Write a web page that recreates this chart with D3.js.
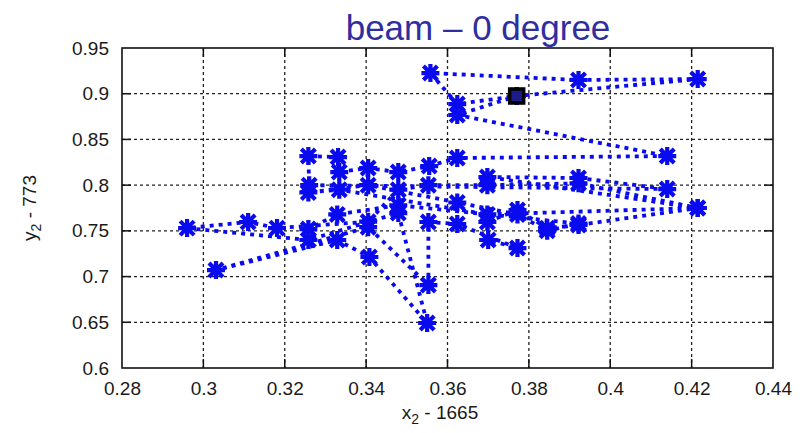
<!DOCTYPE html>
<html>
<head>
<meta charset="utf-8">
<script src="https://cdn.jsdelivr.net/npm/d3@7"></script>
<style>
body { margin: 0; background: #fff; }
svg { display: block; font-family: "Liberation Sans", Arial, sans-serif; }
</style>
</head>
<body>
<div></div>
<script>
var width = 805, height = 433;
var pLeft = 122, pRight = 773, pTop = 48, pBottom = 368;

var xTicks = [0.28, 0.30, 0.32, 0.34, 0.36, 0.38, 0.40, 0.42, 0.44];
var xTickLabels = ["0.28", "0.3", "0.32", "0.34", "0.36", "0.38", "0.4", "0.42", "0.44"];
var yTicks = [0.60, 0.65, 0.70, 0.75, 0.80, 0.85, 0.90, 0.95];
var yTickLabels = ["0.6", "0.65", "0.7", "0.75", "0.8", "0.85", "0.9", "0.95"];

// beam position track (x2 - 1665, y2 - 773), in time order
var trackX = [0.377, 0.4215, 0.3922, 0.3558, 0.3624, 0.377, 0.3624, 0.414, 0.3624, 0.3555,
              0.3479, 0.3405, 0.3334, 0.3331, 0.3258, 0.326, 0.414, 0.3922, 0.3698, 0.4215,
              0.3922, 0.3845, 0.3772, 0.3698, 0.370, 0.3772, 0.3624, 0.3553, 0.3553, 0.3405,
              0.3031, 0.3329, 0.3408, 0.355, 0.3479, 0.3258, 0.296, 0.311, 0.3181, 0.3405,
              0.3479, 0.3553, 0.3698, 0.3922, 0.4215, 0.3698, 0.3334, 0.3258, 0.3405, 0.3624,
              0.3772, 0.3845, 0.3922, 0.3479, 0.3329, 0.3258];
var trackY = [0.8975, 0.916, 0.915, 0.9226, 0.8887, 0.8975, 0.8767, 0.8318, 0.8297, 0.8209,
              0.8143, 0.8187, 0.8143, 0.8307, 0.8318, 0.800, 0.7957, 0.8078, 0.8089, 0.775,
              0.7564, 0.753, 0.7728, 0.7597, 0.740, 0.7312, 0.7575, 0.7597, 0.6907, 0.754,
              0.7071, 0.740, 0.7214, 0.6492, 0.7695, 0.740, 0.753, 0.7597, 0.753, 0.760,
              0.795, 0.800, 0.800, 0.802, 0.775, 0.768, 0.795, 0.792, 0.800, 0.781,
              0.768, 0.750, 0.758, 0.778, 0.768, 0.752];
var startX = [0.377];
var startY = [0.8975];

var points = trackX.map(function(d, i) { return [d, trackY[i]]; });

var blue = "#0a0aee";

var svg = d3.select("div").append("svg")
    .attr("width", width)
    .attr("height", height);

var x = d3.scaleLinear().domain([0.28, 0.44]).range([pLeft, pRight]);
var y = d3.scaleLinear().domain([0.6, 0.95]).range([pBottom, pTop]);

// grid
svg.append("g").selectAll("line").data(xTicks.slice(1, -1)).join("line")
    .attr("x1", d => x(d)).attr("x2", d => x(d))
    .attr("y1", pTop).attr("y2", pBottom)
    .attr("stroke", "#222").attr("stroke-width", 1.3)
    .attr("stroke-dasharray", "3,3");
svg.append("g").selectAll("line").data(yTicks.slice(1, -1)).join("line")
    .attr("y1", d => y(d)).attr("y2", d => y(d))
    .attr("x1", pLeft).attr("x2", pRight)
    .attr("stroke", "#222").attr("stroke-width", 1.3)
    .attr("stroke-dasharray", "3,3");

// axes: labels outside, short ticks inside
var xAxis = d3.axisBottom(x).tickValues(xTicks)
    .tickFormat((d, i) => xTickLabels[i]).tickSize(0).tickPadding(14);
var yAxis = d3.axisLeft(y).tickValues(yTicks)
    .tickFormat((d, i) => yTickLabels[i]).tickSize(0).tickPadding(13);

var gx = svg.append("g").attr("transform", "translate(0," + pBottom + ")").call(xAxis);
var gy = svg.append("g").attr("transform", "translate(" + pLeft + ",0)").call(yAxis);
[gx, gy].forEach(function(g) {
    g.select(".domain").remove();
    g.selectAll("text").attr("font-size", 19).attr("fill", "#1a1a1a")
        .attr("font-family", "Liberation Sans, Arial, sans-serif");
});

var tickLen = 9;
var ticks = svg.append("g").attr("stroke", "#111").attr("stroke-width", 1.5);
xTicks.slice(1, -1).forEach(function(d) {
    ticks.append("line").attr("x1", x(d)).attr("x2", x(d)).attr("y1", pBottom).attr("y2", pBottom - tickLen);
    ticks.append("line").attr("x1", x(d)).attr("x2", x(d)).attr("y1", pTop).attr("y2", pTop + tickLen);
});
yTicks.slice(1, -1).forEach(function(d) {
    ticks.append("line").attr("y1", y(d)).attr("y2", y(d)).attr("x1", pLeft).attr("x2", pLeft + tickLen);
    ticks.append("line").attr("y1", y(d)).attr("y2", y(d)).attr("x1", pRight).attr("x2", pRight - tickLen);
});

svg.append("rect")
    .attr("x", pLeft).attr("y", pTop)
    .attr("width", pRight - pLeft).attr("height", pBottom - pTop)
    .attr("fill", "none").attr("stroke", "#111").attr("stroke-width", 1.6);

// track
var line = d3.line().x(d => x(d[0])).y(d => y(d[1]));
svg.append("path")
    .datum(points)
    .attr("d", line)
    .attr("fill", "none")
    .attr("stroke", blue)
    .attr("stroke-width", 3.8)
    .attr("stroke-dasharray", "4,5");

var s = 9, a = 7;
var star = "M" + (-s) + ",0H" + s + "M0," + (-s) + "V" + s +
    "M" + (-a) + "," + (-a) + "L" + a + "," + a +
    "M" + (-a) + "," + a + "L" + a + "," + (-a);
svg.append("g").selectAll("path").data(points).join("path")
    .attr("transform", d => "translate(" + x(d[0]) + "," + y(d[1]) + ")")
    .attr("d", star)
    .attr("fill", "none")
    .attr("stroke", blue)
    .attr("stroke-width", 4.2);

// start marker
svg.append("g").selectAll("rect").data(startX).join("rect")
    .attr("x", (d, i) => x(d) - 7)
    .attr("y", (d, i) => y(startY[i]) - 7)
    .attr("width", 14).attr("height", 14)
    .attr("fill", "#1b1b8a")
    .attr("stroke", "#000")
    .attr("stroke-width", 3.5);

// title and axis labels
svg.append("text")
    .attr("x", 478).attr("y", 40)
    .attr("text-anchor", "middle")
    .attr("font-size", 35)
    .attr("fill", "#2e2ea0")
    .text("beam \u2013 0 degree");

var xl = svg.append("text")
    .attr("x", 440).attr("y", 419)
    .attr("text-anchor", "middle")
    .attr("font-size", 19)
    .attr("fill", "#1a1a1a");
xl.append("tspan").text("x");
xl.append("tspan").attr("font-size", 14).attr("dy", 5).text("2");
xl.append("tspan").attr("dy", -5).text(" - 1665");

var yl = svg.append("text")
    .attr("transform", "translate(36,208) rotate(-90)")
    .attr("text-anchor", "middle")
    .attr("font-size", 19)
    .attr("fill", "#1a1a1a");
yl.append("tspan").text("y");
yl.append("tspan").attr("font-size", 14).attr("dy", 5).text("2");
yl.append("tspan").attr("dy", -5).text(" - 773");
</script>
</body>
</html>
